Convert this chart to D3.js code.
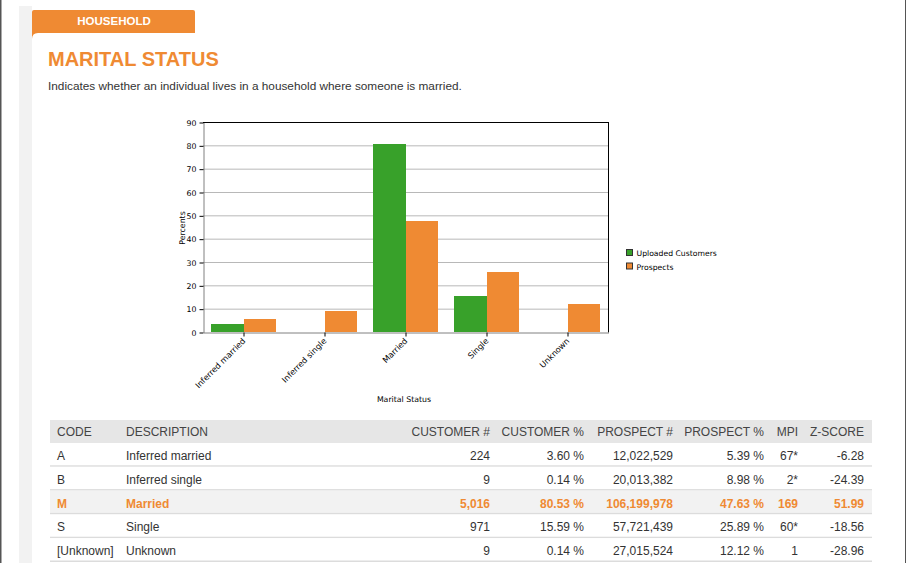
<!DOCTYPE html>
<html>
<head>
<meta charset="utf-8">
<script src="https://cdn.jsdelivr.net/npm/d3@7"></script>
<style>
  body { margin: 0; background: #fff; }
  svg { display: block; }
</style>
</head>
<body>
<div id="page"></div>
<script>
'use strict';

// chart data
var categories = ['Inferred married', 'Inferred single', 'Married', 'Single', 'Unknown'];
var seriesNames = ['Uploaded Customers', 'Prospects'];
var customerPct = [3.60, 0.14, 80.53, 15.59, 0.14];
var prospectPct = [5.39, 8.98, 47.63, 25.89, 12.12];
var yTicks = [0, 10, 20, 30, 40, 50, 60, 70, 80, 90];

// table data
var tableHeaders = ['CODE', 'DESCRIPTION', 'CUSTOMER #', 'CUSTOMER %', 'PROSPECT #', 'PROSPECT %', 'MPI', 'Z-SCORE'];
var codes = ['A', 'B', 'M', 'S', '[Unknown]'];
var descriptions = ['Inferred married', 'Inferred single', 'Married', 'Single', 'Unknown'];
var customerCounts = ['224', '9', '5,016', '971', '9'];
var customerPctText = ['3.60 %', '0.14 %', '80.53 %', '15.59 %', '0.14 %'];
var prospectCounts = ['12,022,529', '20,013,382', '106,199,978', '57,721,439', '27,015,524'];
var prospectPctText = ['5.39 %', '8.98 %', '47.63 %', '25.89 %', '12.12 %'];
var mpi = ['67*', '2*', '169', '60*', '1'];
var zScores = ['-6.28', '-24.39', '51.99', '-18.56', '-28.96'];
var highlightRow = 2;

var W = 906, H = 563,
    orange = '#ef8a33',
    green = '#38a12a',
    pageFont = '"Liberation Sans", Arial, sans-serif',
    chartFont = '"DejaVu Sans", Verdana, sans-serif';

var svg = d3.select('#page').append('svg')
    .attr('width', W)
    .attr('height', H);

// page frame
svg.append('rect').attr('x', 0).attr('y', 0).attr('width', 1.5).attr('height', H).attr('fill', '#555');
svg.append('rect').attr('x', 905).attr('y', 0).attr('width', 1).attr('height', H).attr('fill', '#555');
svg.append('rect').attr('x', 19).attr('y', 6).attr('width', 13).attr('height', H).attr('fill', '#f2f2f2');

// orange tab and white panel with rounded corner
svg.append('rect').attr('x', 32).attr('y', 10).attr('width', 163).attr('height', 30)
    .attr('rx', 2).attr('fill', orange);
svg.append('path')
    .attr('d', 'M32,39 Q32,33 38,33 L905,33 L905,' + H + ' L32,' + H + ' Z')
    .attr('fill', '#fff');

svg.append('text')
    .attr('x', 114).attr('y', 25)
    .attr('text-anchor', 'middle')
    .attr('font-family', pageFont).attr('font-size', 11.5).attr('font-weight', 'bold')
    .attr('fill', '#fff')
    .text('HOUSEHOLD');

svg.append('text')
    .attr('x', 48).attr('y', 66)
    .attr('font-family', pageFont).attr('font-size', 20).attr('font-weight', 'bold')
    .attr('fill', orange)
    .text('MARITAL STATUS');

svg.append('text')
    .attr('x', 48).attr('y', 89.5)
    .attr('font-family', pageFont).attr('font-size', 11.8)
    .attr('fill', '#333')
    .text('Indicates whether an individual lives in a household where someone is married.');

// ---- bar chart ----
var plot = {left: 203, right: 608, top: 122, bottom: 332};

var y = d3.scaleLinear().domain([0, 90]).range([plot.bottom, plot.top]);
var x = d3.scaleBand().domain(categories).range([plot.left, plot.right]);
var xSub = d3.scaleBand().domain(seriesNames).range([0, x.bandwidth()])
    .paddingInner(0).paddingOuter(0.265);
var colour = d3.scaleOrdinal().domain(seriesNames).range([green, orange]);

var chart = svg.append('g').attr('font-family', chartFont);

// grid
chart.append('g').selectAll('line')
    .data(yTicks.filter(function(d) { return d > 0 && d < 90; }))
    .join('line')
    .attr('x1', plot.left).attr('x2', plot.right)
    .attr('y1', function(d) { return y(d) + 0.5; })
    .attr('y2', function(d) { return y(d) + 0.5; })
    .attr('stroke', '#b8b8b8');

// bars
var rows = categories.map(function(c, i) {
    return {cat: c, values: [customerPct[i], prospectPct[i]]};
});
chart.append('g').attr('shape-rendering', 'crispEdges').selectAll('g')
    .data(rows)
    .join('g')
    .attr('transform', function(d) { return 'translate(' + x(d.cat) + ',0)'; })
    .selectAll('rect')
    .data(function(d) { return d.values.map(function(v, i) { return {name: seriesNames[i], value: v}; }); })
    .join('rect')
    .attr('x', function(d) { return xSub(d.name); })
    .attr('width', xSub.bandwidth())
    .attr('y', function(d) { return y(d.value); })
    .attr('height', function(d) { return plot.bottom - y(d.value); })
    .attr('fill', function(d) { return colour(d.name); });

// frame: top and right black, left and bottom gray
chart.append('line').attr('x1', plot.left).attr('x2', plot.right + 0.5)
    .attr('y1', plot.top + 0.5).attr('y2', plot.top + 0.5).attr('stroke', '#000');
chart.append('line').attr('x1', plot.right + 0.5).attr('x2', plot.right + 0.5)
    .attr('y1', plot.top).attr('y2', plot.bottom + 0.5).attr('stroke', '#000');

// y axis
var yAxis = chart.append('g')
    .attr('transform', 'translate(' + (plot.left + 0.5) + ',0.5)')
    .call(d3.axisLeft(y).tickValues(yTicks).tickSize(4).tickPadding(3).tickSizeOuter(0));
yAxis.select('.domain').attr('stroke', '#808080');
yAxis.selectAll('.tick line').attr('stroke', '#000');
yAxis.selectAll('.tick text').attr('font-family', chartFont).attr('font-size', 7.8).attr('fill', '#000');

// x axis
var xAxis = chart.append('g')
    .attr('transform', 'translate(0.5,' + (plot.bottom + 0.5) + ')')
    .call(d3.axisBottom(x).tickSize(4).tickSizeOuter(0).tickPadding(2));
xAxis.select('.domain').attr('stroke', '#808080');
xAxis.selectAll('.tick line').attr('stroke', '#000');
xAxis.selectAll('.tick text')
    .attr('font-family', chartFont).attr('font-size', 8.2).attr('fill', '#000')
    .attr('text-anchor', 'end')
    .attr('dy', null)
    .attr('transform', 'translate(2,9) rotate(-45)')
    .attr('y', 0).attr('x', 0);

chart.append('text')
    .attr('x', 404).attr('y', 402)
    .attr('text-anchor', 'middle')
    .attr('font-size', 7.8)
    .text('Marital Status');

chart.append('text')
    .attr('transform', 'translate(185,228) rotate(-90)')
    .attr('text-anchor', 'middle')
    .attr('font-size', 7.8)
    .text('Percents');

// legend
var legend = chart.append('g').selectAll('g')
    .data(seriesNames)
    .join('g')
    .attr('transform', function(d, i) { return 'translate(626.5,' + (249.5 + i * 13.5) + ')'; });
legend.append('rect')
    .attr('width', 6).attr('height', 6)
    .attr('fill', function(d) { return colour(d); })
    .attr('stroke', '#333').attr('stroke-width', 1);
legend.append('text')
    .attr('x', 10).attr('y', 6.5)
    .attr('font-size', 7.7)
    .text(function(d) { return d; });

// ---- table ----
var table = {left: 50, right: 872, top: 420, headH: 23, rowH: 23.8};
var colX = [57, 126, 490, 584, 673, 764, 798, 864];
var colAnchor = ['start', 'start', 'end', 'end', 'end', 'end', 'end', 'end'];

var tbl = svg.append('g').attr('font-family', pageFont).attr('font-size', 12);

tbl.append('rect')
    .attr('x', table.left).attr('y', table.top)
    .attr('width', table.right - table.left).attr('height', table.headH)
    .attr('fill', '#e6e6e6');

tbl.append('g').selectAll('text')
    .data(tableHeaders)
    .join('text')
    .attr('x', function(d, i) { return colX[i]; })
    .attr('y', table.top + 15.5)
    .attr('text-anchor', function(d, i) { return colAnchor[i]; })
    .attr('fill', '#444')
    .text(function(d) { return d; });

var tableRows = codes.map(function(c, i) {
    return [c, descriptions[i], customerCounts[i], customerPctText[i], prospectCounts[i],
            prospectPctText[i], mpi[i], zScores[i]];
});

var rowG = tbl.append('g').selectAll('g')
    .data(tableRows)
    .join('g')
    .attr('transform', function(d, i) {
        return 'translate(0,' + (table.top + table.headH + i * table.rowH) + ')';
    });

rowG.append('rect')
    .attr('x', table.left).attr('width', table.right - table.left)
    .attr('height', table.rowH)
    .attr('fill', function(d, i) { return i === highlightRow ? '#f2f2f2' : '#fff'; });

rowG.append('rect')
    .attr('x', table.left).attr('width', table.right - table.left)
    .attr('y', table.rowH - 1.5).attr('height', 1.5)
    .attr('fill', '#dcdcdc');

rowG.each(function(row, ri) {
    d3.select(this).selectAll('text')
        .data(row)
        .join('text')
        .attr('x', function(d, i) { return colX[i]; })
        .attr('y', 17)
        .attr('text-anchor', function(d, i) { return colAnchor[i]; })
        .attr('fill', ri === highlightRow ? orange : '#333')
        .attr('font-weight', ri === highlightRow ? 'bold' : 'normal')
        .text(function(d) { return d; });
});
</script>
</body>
</html>
